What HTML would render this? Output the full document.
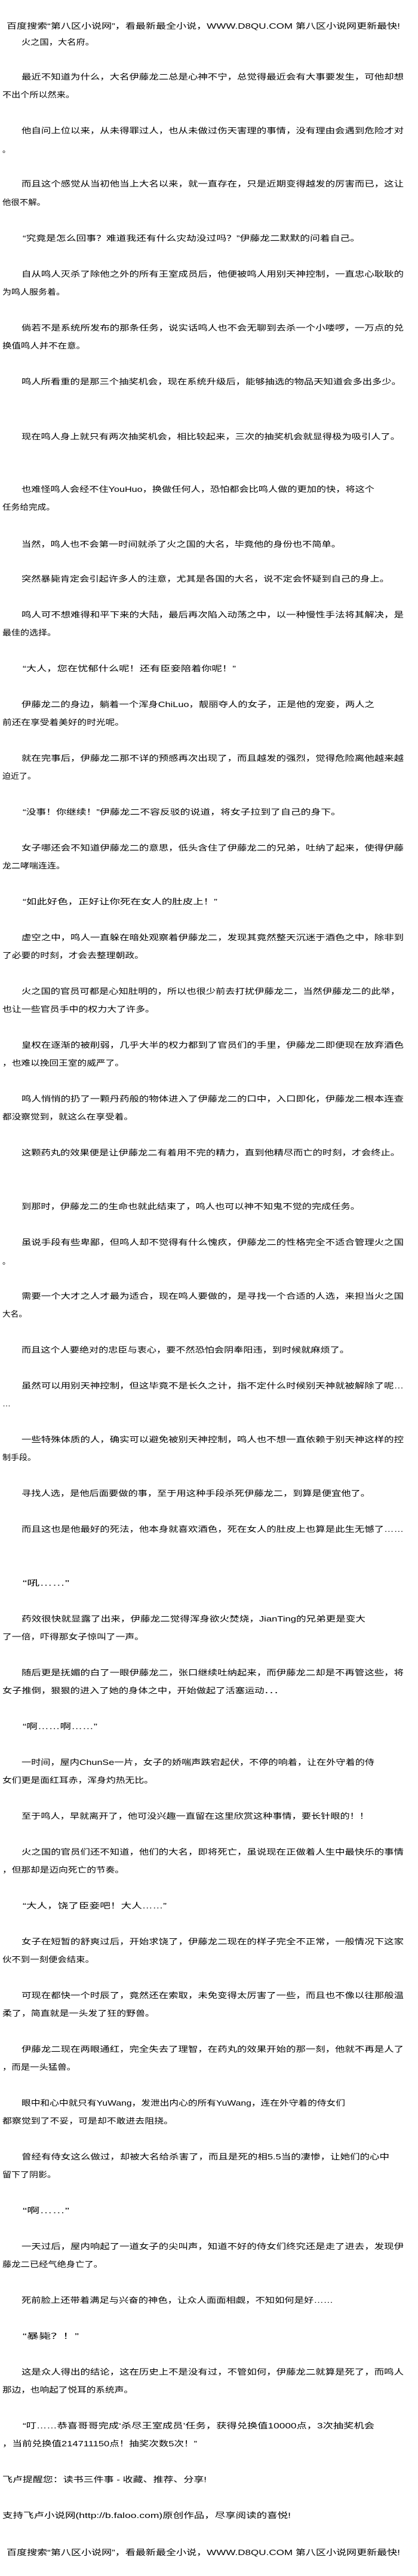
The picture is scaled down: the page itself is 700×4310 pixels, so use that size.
<!DOCTYPE html>
<html><head><meta charset="utf-8"><style>
html,body{margin:0;padding:0;background:#fff;}
svg{display:block;}
text{font-family:"Liberation Sans","Noto Sans CJK SC",sans-serif;font-size:13px;fill:#000;}
</style></head><body>
<svg width="700" height="4310" xmlns="http://www.w3.org/2000/svg">
<rect width="700" height="4310" fill="#fff"/>
<g lengthAdjust="spacingAndGlyphs">
<text x="11" y="48" textLength="659" lengthAdjust="spacingAndGlyphs">百度搜索“第八区小说网”，看最新最全小说，WWW.D8QU.COM  第八区小说网更新最快!</text>
<text x="36" y="75" textLength="122" lengthAdjust="spacingAndGlyphs">火之国，大名府。</text>
<text x="36" y="133" textLength="640" lengthAdjust="spacingAndGlyphs">最近不知道为什么，大名伊藤龙二总是心神不宁，总觉得最近会有大事要发生，可他却想</text>
<text x="4" y="163" textLength="121" lengthAdjust="spacingAndGlyphs">不出个所以然来。</text>
<text x="36" y="223" textLength="640" lengthAdjust="spacingAndGlyphs">他自问上位以来，从未得罪过人，也从未做过伤天害理的事情，没有理由会遇到危险才对</text>
<text x="4" y="255">。</text>
<text x="36" y="312" textLength="640" lengthAdjust="spacingAndGlyphs">而且这个感觉从当初他当上大名以来，就一直存在，只是近期变得越发的厉害而已，这让</text>
<text x="4" y="343" textLength="72" lengthAdjust="spacingAndGlyphs">他很不解。</text>
<text x="38" y="403" textLength="565" lengthAdjust="spacingAndGlyphs">“究竟是怎么回事？难道我还有什么灾劫没过吗？”伊藤龙二默默的问着自己。</text>
<text x="36" y="463" textLength="640" lengthAdjust="spacingAndGlyphs">自从鸣人灭杀了除他之外的所有王室成员后，他便被鸣人用别天神控制，一直忠心耿耿的</text>
<text x="4" y="493" textLength="105" lengthAdjust="spacingAndGlyphs">为鸣人服务着。</text>
<text x="36" y="553" textLength="640" lengthAdjust="spacingAndGlyphs">倘若不是系统所发布的那条任务，说实话鸣人也不会无聊到去杀一个小喽啰，一万点的兑</text>
<text x="4" y="583" textLength="139" lengthAdjust="spacingAndGlyphs">换值鸣人并不在意。</text>
<text x="36" y="643" textLength="636" lengthAdjust="spacingAndGlyphs">鸣人所看重的是那三个抽奖机会，现在系统升级后，能够抽选的物品天知道会多出多少。</text>
<text x="36" y="735" textLength="634" lengthAdjust="spacingAndGlyphs">现在鸣人身上就只有两次抽奖机会，相比较起来，三次的抽奖机会就显得极为吸引人了。</text>
<text x="36" y="823" textLength="591" lengthAdjust="spacingAndGlyphs">也难怪鸣人会经不住YouHuo，换做任何人，恐怕都会比鸣人做的更加的快，将这个</text>
<text x="4" y="853" textLength="88" lengthAdjust="spacingAndGlyphs">任务给完成。</text>
<text x="36" y="915" textLength="535" lengthAdjust="spacingAndGlyphs">当然，鸣人也不会第一时间就杀了火之国的大名，毕竟他的身份也不简单。</text>
<text x="36" y="973" textLength="616" lengthAdjust="spacingAndGlyphs">突然暴毙肯定会引起许多人的注意，尤其是各国的大名，说不定会怀疑到自己的身上。</text>
<text x="36" y="1033" textLength="640" lengthAdjust="spacingAndGlyphs">鸣人可不想难得和平下来的大陆，最后再次陷入动荡之中，以一种慢性手法将其解决，是</text>
<text x="4" y="1063" textLength="90" lengthAdjust="spacingAndGlyphs">最佳的选择。</text>
<text x="38" y="1123" textLength="357" lengthAdjust="spacingAndGlyphs">“大人，您在忧郁什么呢！还有臣妾陪着你呢！”</text>
<text x="36" y="1183" textLength="591" lengthAdjust="spacingAndGlyphs">伊藤龙二的身边，躺着一个浑身ChiLuo，靓丽夺人的女子，正是他的宠妾，两人之</text>
<text x="4" y="1213" textLength="204" lengthAdjust="spacingAndGlyphs">前还在享受着美好的时光呢。</text>
<text x="36" y="1273" textLength="640" lengthAdjust="spacingAndGlyphs">就在完事后，伊藤龙二那不详的预感再次出现了，而且越发的强烈，觉得危险离他越来越</text>
<text x="4" y="1303" textLength="56" lengthAdjust="spacingAndGlyphs">迫近了。</text>
<text x="38" y="1363" textLength="533" lengthAdjust="spacingAndGlyphs">“没事！你继续！”伊藤龙二不容反驳的说道，将女子拉到了自己的身下。</text>
<text x="36" y="1423" textLength="640" lengthAdjust="spacingAndGlyphs">女子哪还会不知道伊藤龙二的意思，低头含住了伊藤龙二的兄弟，吐纳了起来，使得伊藤</text>
<text x="4" y="1453" textLength="105" lengthAdjust="spacingAndGlyphs">龙二哮喘连连。</text>
<text x="38" y="1513" textLength="326" lengthAdjust="spacingAndGlyphs">“如此好色，正好让你死在女人的肚皮上！”</text>
<text x="36" y="1573" textLength="640" lengthAdjust="spacingAndGlyphs">虚空之中，鸣人一直躲在暗处观察着伊藤龙二，发现其竟然整天沉迷于酒色之中，除非到</text>
<text x="4" y="1603" textLength="237" lengthAdjust="spacingAndGlyphs">了必要的时刻，才会去整理朝政。</text>
<text x="36" y="1663" textLength="634" lengthAdjust="spacingAndGlyphs">火之国的官员可都是心知肚明的，所以也很少前去打扰伊藤龙二，当然伊藤龙二的此举，</text>
<text x="4" y="1693" textLength="255" lengthAdjust="spacingAndGlyphs">也让一些官员手中的权力大了许多。</text>
<text x="36" y="1753" textLength="640" lengthAdjust="spacingAndGlyphs">皇权在逐渐的被削弱，几乎大半的权力都到了官员们的手里，伊藤龙二即便现在放弃酒色</text>
<text x="4" y="1783" textLength="204" lengthAdjust="spacingAndGlyphs">，也难以挽回王室的威严了。</text>
<text x="36" y="1843" textLength="640" lengthAdjust="spacingAndGlyphs">鸣人悄悄的扔了一颗丹药般的物体进入了伊藤龙二的口中，入口即化，伊藤龙二根本连查</text>
<text x="4" y="1873" textLength="219" lengthAdjust="spacingAndGlyphs">都没察觉到，就这么在享受着。</text>
<text x="36" y="1933" textLength="634" lengthAdjust="spacingAndGlyphs">这颗药丸的效果便是让伊藤龙二有着用不完的精力，直到他精尽而亡的时刻，才会终止。</text>
<text x="36" y="2023" textLength="567" lengthAdjust="spacingAndGlyphs">到那时，伊藤龙二的生命也就此结束了，鸣人也可以神不知鬼不觉的完成任务。</text>
<text x="36" y="2083" textLength="640" lengthAdjust="spacingAndGlyphs">虽说手段有些卑鄙，但鸣人却不觉得有什么愧疚，伊藤龙二的性格完全不适合管理火之国</text>
<text x="4" y="2115">。</text>
<text x="36" y="2173" textLength="640" lengthAdjust="spacingAndGlyphs">需要一个大才之人才最为适合，现在鸣人要做的，是寻找一个合适的人选，来担当火之国</text>
<text x="4" y="2203" textLength="41" lengthAdjust="spacingAndGlyphs">大名。</text>
<text x="36" y="2263" textLength="549" lengthAdjust="spacingAndGlyphs">而且这个人要绝对的忠臣与衷心，要不然恐怕会阴奉阳违，到时候就麻烦了。</text>
<text x="36" y="2323" textLength="640" lengthAdjust="spacingAndGlyphs">虽然可以用别天神控制，但这毕竟不是长久之计，指不定什么时候别天神就被解除了呢…</text>
<text x="4" y="2353" textLength="14" lengthAdjust="spacingAndGlyphs">…</text>
<text x="36" y="2413" textLength="640" lengthAdjust="spacingAndGlyphs">一些特殊体质的人，确实可以避免被别天神控制，鸣人也不想一直依赖于别天神这样的控</text>
<text x="4" y="2443" textLength="56" lengthAdjust="spacingAndGlyphs">制手段。</text>
<text x="36" y="2503" textLength="584" lengthAdjust="spacingAndGlyphs">寻找人选，是他后面要做的事，至于用这种手段杀死伊藤龙二，到算是便宜他了。</text>
<text x="36" y="2563" textLength="640" lengthAdjust="spacingAndGlyphs">而且这也是他最好的死法，他本身就喜欢酒色，死在女人的肚皮上也算是此生无憾了……</text>
<text x="38" y="2653" textLength="78" lengthAdjust="spacingAndGlyphs">“吼……”</text>
<text x="36" y="2713" textLength="576" lengthAdjust="spacingAndGlyphs">药效很快就显露了出来，伊藤龙二觉得浑身欲火焚烧，JianTing的兄弟更是变大</text>
<text x="4" y="2743" textLength="237" lengthAdjust="spacingAndGlyphs">了一倍，吓得那女子惊叫了一声。</text>
<text x="36" y="2803" textLength="640" lengthAdjust="spacingAndGlyphs">随后更是抚媚的白了一眼伊藤龙二，张口继续吐纳起来，而伊藤龙二却是不再管这些，将</text>
<text x="4" y="2833" textLength="471" lengthAdjust="spacingAndGlyphs">女子推倒，狠狠的进入了她的身体之中，开始做起了活塞运动．．．</text>
<text x="38" y="2893" textLength="125" lengthAdjust="spacingAndGlyphs">“啊……啊……”</text>
<text x="36" y="2953" textLength="591" lengthAdjust="spacingAndGlyphs">一时间，屋内ChunSe一片，女子的娇喘声跌宕起伏，不停的响着，让在外守着的侍</text>
<text x="4" y="2983" textLength="253" lengthAdjust="spacingAndGlyphs">女们更是面红耳赤，浑身灼热无比。</text>
<text x="36" y="3043" textLength="582" lengthAdjust="spacingAndGlyphs">至于鸣人，早就离开了，他可没兴趣一直留在这里欣赏这种事情，要长针眼的！！</text>
<text x="36" y="3103" textLength="640" lengthAdjust="spacingAndGlyphs">火之国的官员们还不知道，他们的大名，即将死亡，虽说现在正做着人生中最快乐的事情</text>
<text x="4" y="3133" textLength="204" lengthAdjust="spacingAndGlyphs">，但那却是迈向死亡的节奏。</text>
<text x="38" y="3193" textLength="241" lengthAdjust="spacingAndGlyphs">“大人，饶了臣妾吧！大人……”</text>
<text x="36" y="3253" textLength="640" lengthAdjust="spacingAndGlyphs">女子在短暂的舒爽过后，开始求饶了，伊藤龙二现在的样子完全不正常，一般情况下这家</text>
<text x="4" y="3283" textLength="154" lengthAdjust="spacingAndGlyphs">伙不到一刻便会结束。</text>
<text x="36" y="3343" textLength="640" lengthAdjust="spacingAndGlyphs">可现在都快一个时辰了，竟然还在索取，未免变得太厉害了一些，而且也不像以往那般温</text>
<text x="4" y="3373" textLength="255" lengthAdjust="spacingAndGlyphs">柔了，简直就是一头发了狂的野兽。</text>
<text x="36" y="3433" textLength="640" lengthAdjust="spacingAndGlyphs">伊藤龙二现在两眼通红，完全失去了理智，在药丸的效果开始的那一刻，他就不再是人了</text>
<text x="4" y="3463" textLength="123" lengthAdjust="spacingAndGlyphs">，而是一头猛兽。</text>
<text x="36" y="3523" textLength="542" lengthAdjust="spacingAndGlyphs">眼中和心中就只有YuWang，发泄出内心的所有YuWang，连在外守着的侍女们</text>
<text x="4" y="3553" textLength="286" lengthAdjust="spacingAndGlyphs">都察觉到了不妥，可是却不敢进去阻挠。</text>
<text x="36" y="3613" textLength="616" lengthAdjust="spacingAndGlyphs">曾经有侍女这么做过，却被大名给杀害了，而且是死的相5.5当的凄惨，让她们的心中</text>
<text x="4" y="3643" textLength="90" lengthAdjust="spacingAndGlyphs">留下了阴影。</text>
<text x="38" y="3703" textLength="78" lengthAdjust="spacingAndGlyphs">“啊……”</text>
<text x="36" y="3763" textLength="640" lengthAdjust="spacingAndGlyphs">一天过后，屋内响起了一道女子的尖叫声，知道不好的侍女们终究还是走了进去，发现伊</text>
<text x="4" y="3793" textLength="168" lengthAdjust="spacingAndGlyphs">藤龙二已经气绝身亡了。</text>
<text x="36" y="3853" textLength="522" lengthAdjust="spacingAndGlyphs">死前脸上还带着满足与兴奋的神色，让众人面面相觑，不知如何是好……</text>
<text x="38" y="3913" textLength="94" lengthAdjust="spacingAndGlyphs">“暴毙？！”</text>
<text x="36" y="3973" textLength="640" lengthAdjust="spacingAndGlyphs">这是众人得出的结论，这在历史上不是没有过，不管如何，伊藤龙二就算是死了，而鸣人</text>
<text x="4" y="4003" textLength="219" lengthAdjust="spacingAndGlyphs">那边，也响起了悦耳的系统声。</text>
<text x="38" y="4063" textLength="589" lengthAdjust="spacingAndGlyphs">“叮……恭喜哥哥完成‘杀尽王室成员’任务，获得兑换值10000点，3次抽奖机会</text>
<text x="4" y="4093" textLength="326" lengthAdjust="spacingAndGlyphs">，当前兑换值214711150点！抽奖次数5次！”</text>
<text x="4" y="4153" textLength="342" lengthAdjust="spacingAndGlyphs">飞卢提醒您：读书三件事 - 收藏、推荐、分享!</text>
<text x="4" y="4213" textLength="483" lengthAdjust="spacingAndGlyphs">支持飞卢小说网(http://b.faloo.com)原创作品，尽享阅读的喜悦!</text>
<text x="11" y="4275" textLength="659" lengthAdjust="spacingAndGlyphs">百度搜索“第八区小说网”，看最新最全小说，WWW.D8QU.COM  第八区小说网更新最快!</text>
</g>
</svg>
</body></html>
